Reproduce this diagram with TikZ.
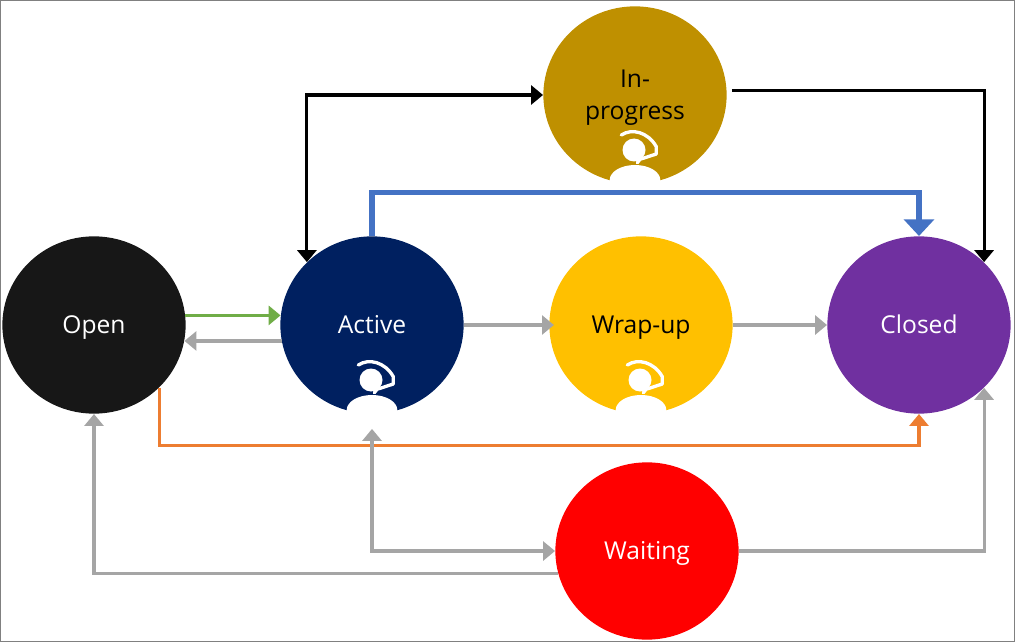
\documentclass[tikz,border=0pt]{standalone}
\usepackage{fontspec}
\setmainfont{Open Sans}
\usetikzlibrary{shapes.geometric,arrows.meta}
\definecolor{darkbg}{HTML}{171717}
\definecolor{navybg}{HTML}{002060}
\definecolor{amberbg}{HTML}{FFC000}
\definecolor{ochrebg}{HTML}{BF9000}
\definecolor{purplebg}{HTML}{7030A0}
\definecolor{linegray}{HTML}{A5A5A5}
\definecolor{linegreen}{HTML}{70AD47}
\definecolor{lineorange}{HTML}{ED7D31}
\definecolor{lineblue}{HTML}{4472C4}
\tikzset{
    state/.style={ellipse, fill=#1, minimum width=104.3pt, minimum height=100.9pt, inner sep=0pt, align=center, font=\fontsize{14}{18.4}\selectfont},
    oneline/.style={text height=10pt, text depth=0.6pt},
    grayarrow/.style={draw=linegray, line width=1.8pt, -{Triangle[length=6.8pt,width=10.8pt]}},
    blackarrow/.style={draw=black, line width=1.8pt, -{Triangle[length=6.8pt,width=10.8pt]}},
    agent/.pic={
        \fill [white] (-25.3,85) arc (180:360:25.3 and 15) -- (25.3,91) -- (-25.3,91) -- cycle;
        \fill [white] (-1,55) circle (11.5);
        \draw [white, line width=1.9pt, line cap=round, line join=round] (-13.7,40) .. controls (-3,33) and (13,37) .. (21.3,51.7) -- (21.3,59) -- (5,64.3) -- (2.3,67.7);
    }
}
\begin{document}
\begin{tikzpicture}[x=0.02cm, y=-0.02cm]
    \useasboundingbox (0,0) rectangle (1015,642);
    \draw [draw=gray, line width=0.8pt] (0.5,0.5) rectangle (1014.5,641.5);
    \node [state=darkbg, oneline, text=white] (open) at (94,325) {Open};
    \node [state=navybg, oneline, text=white] (active) at (372,325) {Active};
    \node [state=amberbg, oneline] (wrapup) at (641,325) {Wrap-up};
    \node [state=purplebg, oneline, text=white] (closed) at (919,325) {Closed};
    \node [state=ochrebg] (inprogress) at (635,95) {\rule{0pt}{13.3pt}In-\\progress};
    \node [state=red, oneline, text=white] (waiting) at (647,551) {Waiting};
    \pic at (active) {agent};
    \pic at (wrapup) {agent};
    \pic at (inprogress) {agent};
    \draw [draw=linegreen, line width=1.8pt, -{Triangle[length=6.8pt,width=10.8pt]}] (open.6) -- (active.174);
    \draw [grayarrow] (active.190) -- (open.-10);
    \draw [grayarrow, shorten >=-2.8pt] (active.east) -- (wrapup.west);
    \draw [grayarrow] (wrapup.east) -- (closed.west);
    \draw [blackarrow, {Triangle[length=6.8pt,width=10.8pt]}-{Triangle[length=6.8pt,width=10.8pt]}] (inprogress.west) -| (active.136);
    \draw [blackarrow, shorten <=2.8pt] (inprogress.3) -| (closed.44);
    \draw [draw=lineblue, line width=3.2pt, -{Triangle[length=9.5pt,width=17pt]}] (active.north) -- ++(0,-43.5) -| (closed.north);
    \draw [draw=lineorange, line width=1.8pt, -{Triangle[length=6.8pt,width=10.8pt]}] (open.-44) -- ++(0,58) -| (closed.south);
    \draw [grayarrow, {Triangle[length=6.8pt,width=10.8pt]}-{Triangle[length=6.8pt,width=10.8pt]}, shorten <=8.5pt] (active.south) |- (waiting.west);
    \draw [grayarrow] (waiting.194) -| (open.south);
    \draw [grayarrow] (waiting.east) -| (closed.-44);
\end{tikzpicture}
\end{document}
